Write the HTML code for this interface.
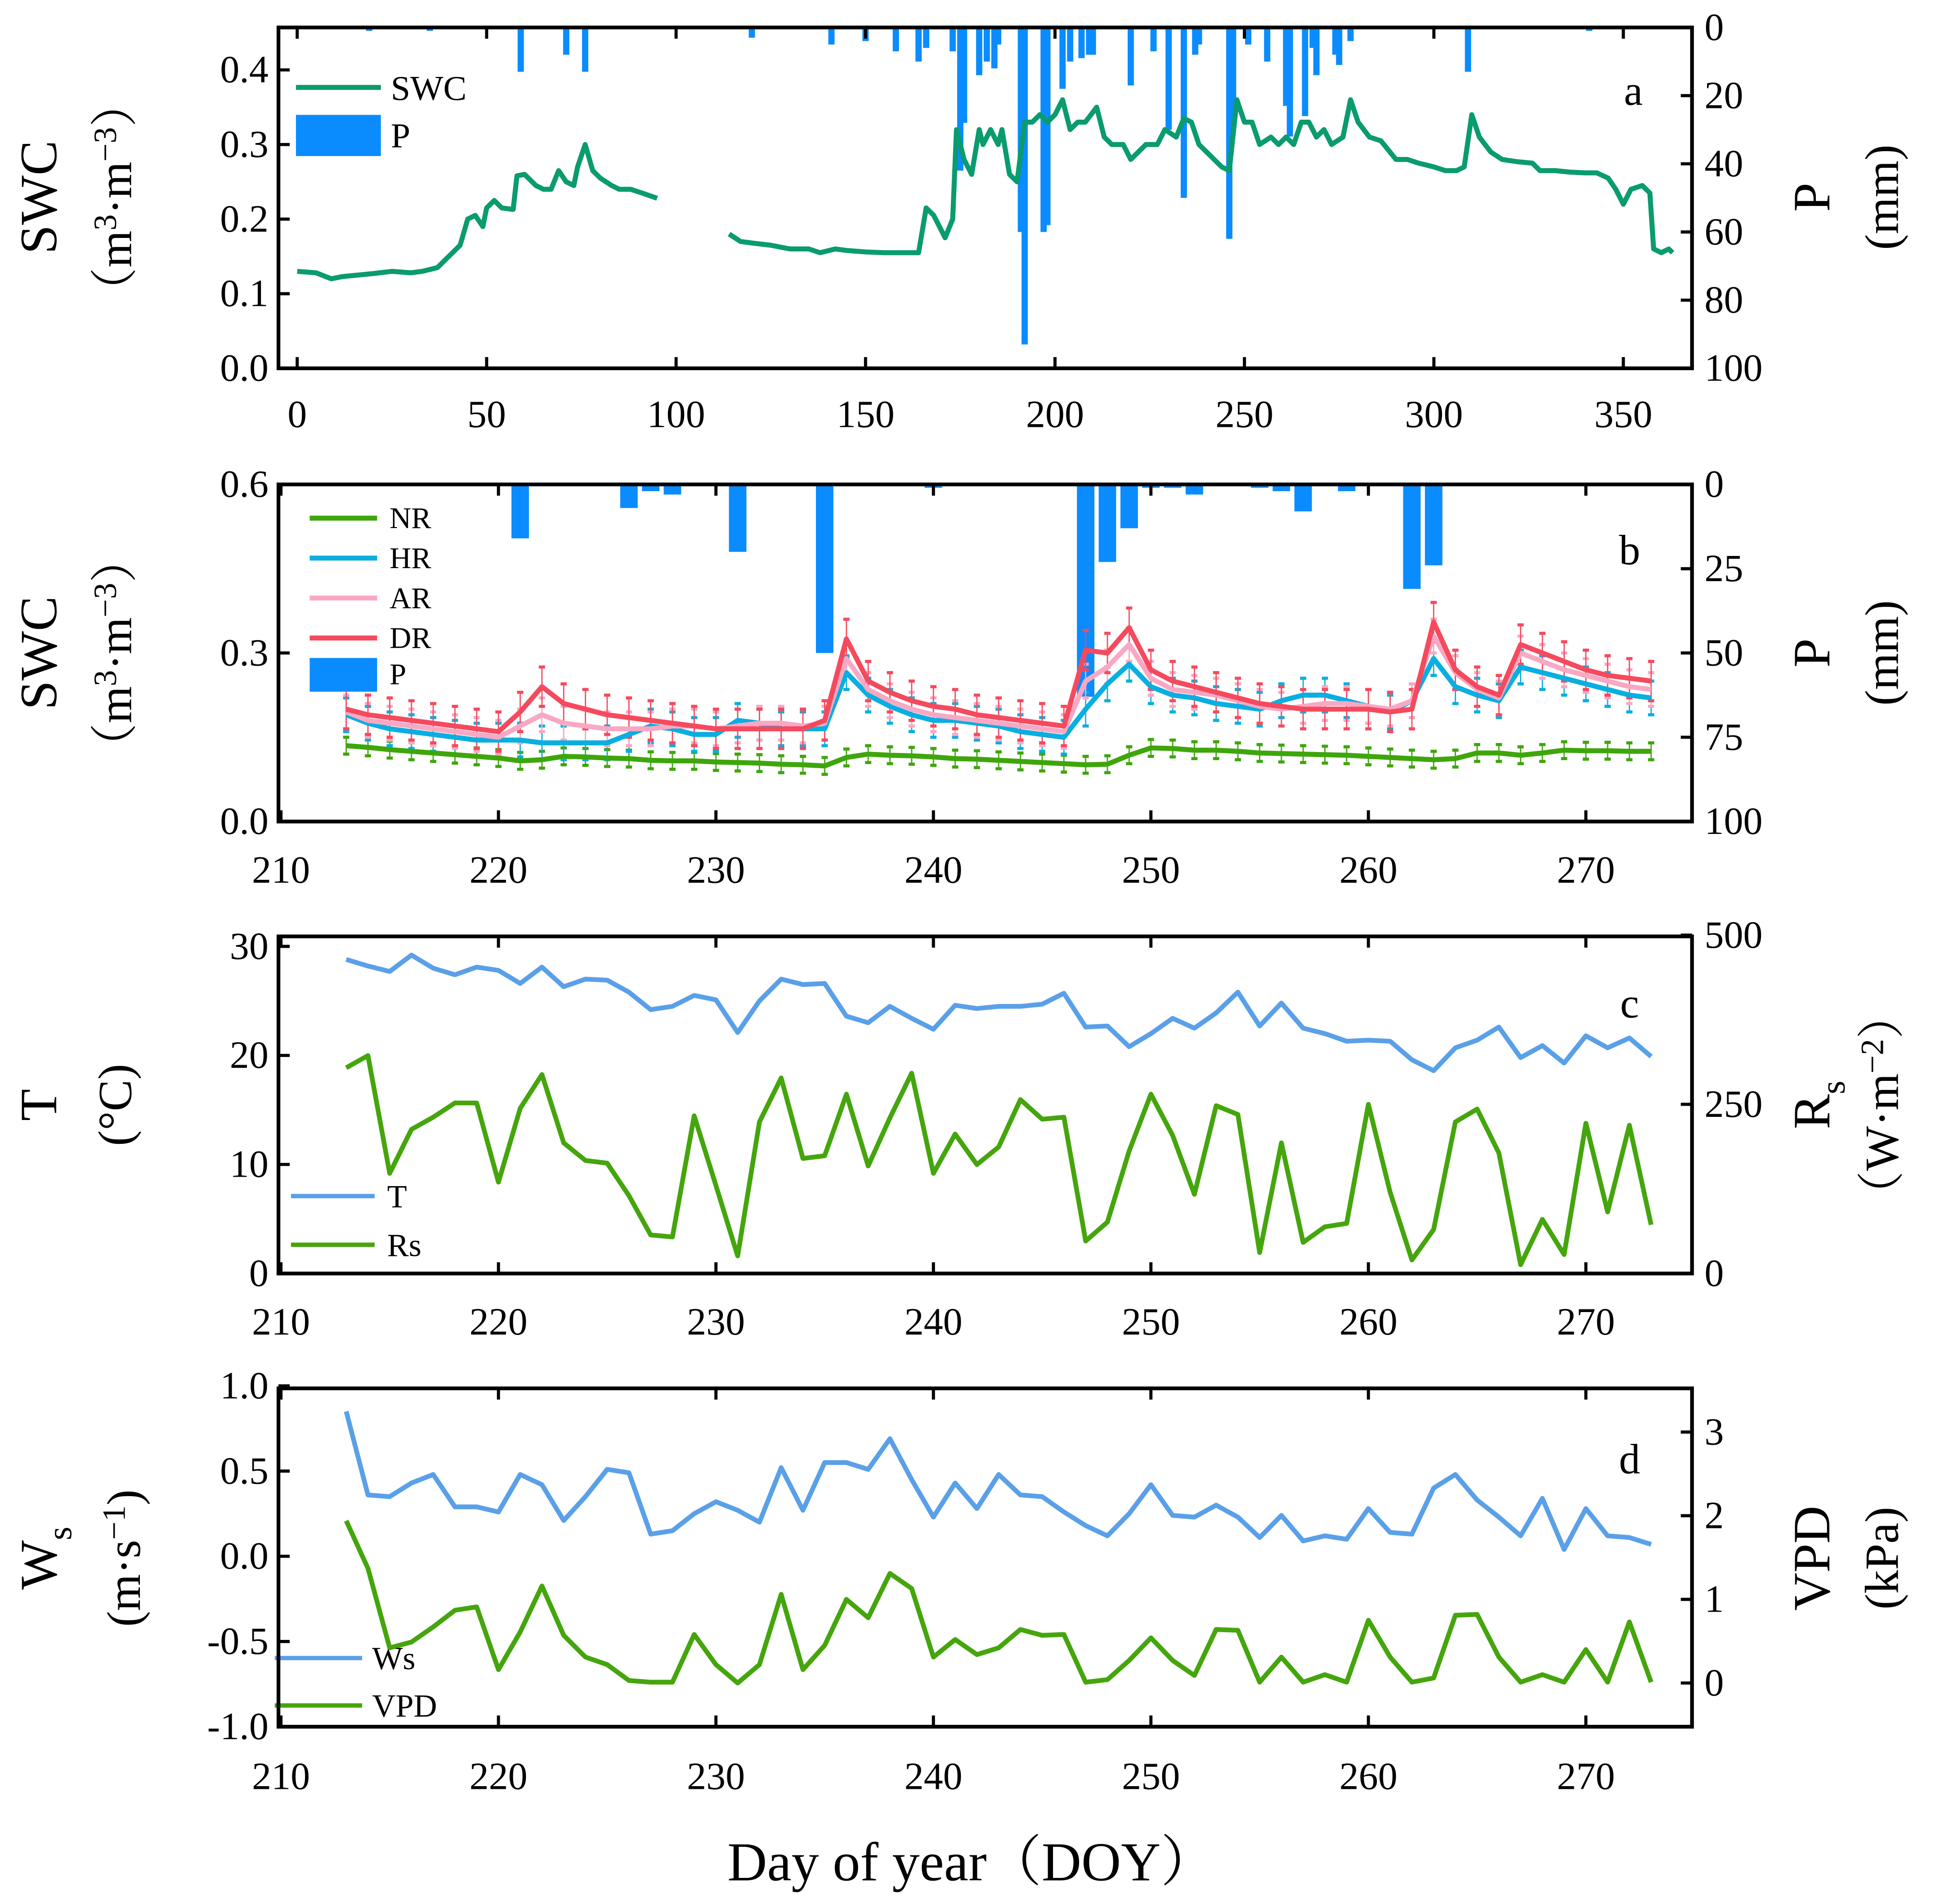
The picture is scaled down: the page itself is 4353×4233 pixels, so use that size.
<!DOCTYPE html>
<html><head><meta charset="utf-8">
<style>
html,body{margin:0;padding:0;background:#fff;}
svg{display:block;}
text{font-family:"Liberation Serif","Noto Serif CJK SC",serif;fill:#000;}
</style></head>
<body>
<svg id="chart" xmlns="http://www.w3.org/2000/svg" width="4353" height="4233" viewBox="0 0 1568 1525" preserveAspectRatio="none">
</svg>
<script>
// ---------- Panel a data ----------
const doyA = [0,5,9,12,20,25,30,33,37,40,43,45,47,49,50,52,54,57,58,60,63,65,67,69,71,73,74,76,78,80,83,85,88,91,95,null,114,117,120,125,130,135,138,142,145,150,155,160,164,166,168,171,173,174,176,178,180,181,183,185,186,188,190,192,194,196,198,200,202,204,206,208,211,213,215,218,220,222,224,227,229,232,234,236,238,240,242,244,246,248,250,252,254,257,259,261,263,265,267,269,271,273,276,278,280,283,286,290,293,296,300,303,306,308,310,312,315,318,322,326,328,332,336,340,343,346,348,350,352,355,357,358,360,362,363];
const swcA = [0.13,0.128,0.12,0.123,0.127,0.13,0.128,0.13,0.135,0.15,0.165,0.2,0.205,0.19,0.215,0.225,0.215,0.213,0.258,0.26,0.245,0.24,0.24,0.265,0.25,0.245,0.27,0.30,0.265,0.255,0.245,0.24,0.24,0.235,0.228,null,0.18,0.17,0.168,0.165,0.16,0.16,0.155,0.16,0.158,0.156,0.155,0.155,0.155,0.215,0.205,0.175,0.2,0.32,0.28,0.26,0.32,0.30,0.32,0.30,0.32,0.26,0.25,0.33,0.33,0.34,0.33,0.34,0.36,0.32,0.33,0.33,0.35,0.31,0.30,0.30,0.28,0.29,0.30,0.30,0.32,0.31,0.335,0.33,0.30,0.29,0.28,0.27,0.265,0.36,0.33,0.33,0.30,0.31,0.30,0.31,0.30,0.33,0.33,0.31,0.32,0.30,0.31,0.36,0.33,0.31,0.305,0.28,0.28,0.275,0.27,0.265,0.265,0.27,0.34,0.31,0.29,0.28,0.277,0.275,0.265,0.265,0.263,0.262,0.262,0.255,0.24,0.22,0.24,0.245,0.235,0.16,0.155,0.16,0.155];
const pDaysA = [19,35,59,71,76,120,141,150,158,164,166,173,175,176,180,182,184,185,191,192,197,198,202,204,207,209,210,220,226,230,234,237,238,246,247,251,256,261,262,266,268,269,274,275,278,309,341];
const pValsA = [1,1,13,8,13,3,5,4,7,10,6,7,42,28,14,10,12,5,60,93,60,58,18,10,9,8,8,17,7,30,50,8,5,62,30,5,10,23,32,26,6,14,8,11,4,13,1];

// ---------- Panel b data ----------
const daysB = [213,214,215,216,217,218,219,220,221,222,223,224,225,226,227,228,229,230,231,232,233,234,235,236,237,238,239,240,241,242,243,244,245,246,247,248,249,250,251,252,253,254,255,256,257,258,259,260,261,262,263,264,265,266,267,268,269,270,271,272,273];
const nrB = [0.135,0.132,0.128,0.125,0.122,0.119,0.116,0.113,0.108,0.110,0.116,0.115,0.113,0.112,0.109,0.108,0.108,0.106,0.105,0.104,0.102,0.101,0.099,0.114,0.120,0.118,0.117,0.115,0.112,0.111,0.109,0.107,0.105,0.103,0.101,0.102,0.118,0.131,0.130,0.127,0.127,0.125,0.122,0.121,0.120,0.119,0.118,0.116,0.114,0.112,0.110,0.112,0.122,0.122,0.118,0.122,0.127,0.126,0.126,0.125,0.125];
const hrB = [0.19,0.175,0.165,0.16,0.155,0.15,0.145,0.145,0.145,0.14,0.14,0.14,0.14,0.155,0.17,0.165,0.155,0.155,0.18,0.175,0.165,0.165,0.165,0.265,0.225,0.205,0.19,0.18,0.18,0.175,0.17,0.16,0.155,0.15,0.20,0.245,0.28,0.24,0.225,0.22,0.21,0.205,0.20,0.215,0.225,0.225,0.215,0.205,0.195,0.215,0.29,0.24,0.225,0.215,0.275,0.265,0.255,0.245,0.235,0.225,0.22];
const arB = [0.195,0.18,0.175,0.17,0.165,0.16,0.155,0.15,0.17,0.19,0.175,0.17,0.165,0.165,0.165,0.17,0.17,0.165,0.17,0.175,0.175,0.17,0.175,0.29,0.235,0.215,0.20,0.19,0.185,0.18,0.175,0.17,0.165,0.16,0.25,0.275,0.315,0.255,0.235,0.23,0.225,0.215,0.205,0.20,0.205,0.21,0.21,0.205,0.20,0.215,0.33,0.265,0.235,0.22,0.30,0.285,0.27,0.26,0.25,0.24,0.235];
const drB = [0.20,0.19,0.185,0.18,0.175,0.17,0.165,0.16,0.195,0.24,0.21,0.20,0.19,0.185,0.18,0.175,0.17,0.165,0.165,0.165,0.165,0.165,0.18,0.325,0.25,0.23,0.215,0.205,0.20,0.19,0.185,0.18,0.175,0.17,0.305,0.30,0.345,0.27,0.25,0.24,0.23,0.22,0.21,0.205,0.20,0.20,0.20,0.20,0.195,0.20,0.355,0.27,0.24,0.225,0.315,0.30,0.285,0.27,0.26,0.255,0.25];
const errB = {nr:0.015, hr:0.03, ar:0.03, dr:0.035};
const pDaysB = [221,226,227,228,231,235,240,243,247,248,249,250,251,252,255,256,257,259,262,263];
const pValsB = [16,7,2,3,20,50,1,0.5,63,23,13,1,1,3,1,2,8,2,31,24];

// ---------- Panel c data ----------
const daysC = daysB;
const tempC = [28.8,28.2,27.7,29.2,28.0,27.4,28.1,27.8,26.6,28.1,26.3,27.0,26.9,25.8,24.2,24.5,25.5,25.1,22.1,25.0,27.0,26.5,26.6,23.6,23.0,24.5,23.4,22.4,24.6,24.3,24.5,24.5,24.7,25.7,22.6,22.7,20.8,22.0,23.4,22.5,23.9,25.8,22.7,24.8,22.5,22.0,21.3,21.4,21.3,19.6,18.6,20.7,21.4,22.6,19.8,20.9,19.3,21.8,20.7,21.6,19.9];
const rsC = [304,322,148,213,231,252,252,135,244,294,193,167,163,115,57,54,233,130,26,224,289,170,174,265,159,230,296,148,206,161,187,257,228,231,48,76,181,265,204,117,248,235,31,193,46,69,74,250,120,20,65,224,243,178,13,80,28,222,91,219,72];

// ---------- Panel d data ----------
const wsD = [0.85,0.36,0.35,0.43,0.48,0.29,0.29,0.26,0.48,0.42,0.21,0.35,0.51,0.49,0.13,0.15,0.25,0.32,0.27,0.20,0.52,0.27,0.55,0.55,0.51,0.69,0.45,0.23,0.43,0.28,0.48,0.36,0.35,0.26,0.18,0.12,0.25,0.42,0.24,0.23,0.30,0.23,0.11,0.24,0.09,0.12,0.10,0.28,0.14,0.13,0.40,0.48,0.33,0.23,0.12,0.34,0.04,0.28,0.12,0.11,0.07];
const vpdD = [1.94,1.37,0.42,0.49,0.67,0.87,0.91,0.16,0.61,1.16,0.57,0.31,0.22,0.03,0.01,0.01,0.58,0.22,0.0,0.22,1.06,0.16,0.45,1.0,0.78,1.31,1.13,0.31,0.52,0.34,0.42,0.64,0.57,0.58,0.01,0.04,0.27,0.54,0.27,0.09,0.64,0.63,0.01,0.31,0.01,0.1,0.01,0.75,0.31,0.01,0.06,0.81,0.82,0.31,0.01,0.1,0.01,0.40,0.01,0.73,0.01];

const ticksAx = [0,50,100,150,200,250,300,350];
const ticksBx = [210,220,230,240,250,260,270];

const svg = document.getElementById('chart');
const NS = 'http://www.w3.org/2000/svg';
function mk(tag, attrs, parent){
  const e = document.createElementNS(NS, tag);
  for (const k in attrs) e.setAttribute(k, attrs[k]);
  (parent||svg).appendChild(e);
  return e;
}
function txt(x,y,s,size,anchor,parent,name){
  const t = mk('text',{x:x,y:y,'font-size':size,'text-anchor':anchor||'middle'},parent);
  t.textContent = s;
  
  
  return t;
}
function lin(d0,d1,r0,r1){ return v => r0 + (v-d0)*(r1-r0)/(d1-d0); }

const X0 = 223, X1 = 1355;
function frame(y0,y1,name){
  const r = mk('rect',{x:X0,y:y0,width:X1-X0,height:y1-y0,fill:'none',stroke:'#000','stroke-width':3});
  
  
}
function xTicks(xs, ticks, y0, y1, labY, g){
  ticks.forEach(t=>{
    const x = xs(t);
    mk('line',{x1:x,x2:x,y1:y1,y2:y1-9,stroke:'#000','stroke-width':2.5},g);
    mk('line',{x1:x,x2:x,y1:y0,y2:y0+9,stroke:'#000','stroke-width':2.5},g);
    txt(x,labY,String(t),31,'middle',g,'x-tick-label');
  });
}
function yTicksL(ys, ticks, fmt, g){
  ticks.forEach(t=>{
    const y = ys(t);
    mk('line',{x1:X0,x2:X0+9,y1:y,y2:y,stroke:'#000','stroke-width':2.5},g);
    txt(X0-8,y+10,fmt(t),31,'end',g,'y-tick-label');
  });
}
function yTicksR(ys, ticks, fmt, g){
  ticks.forEach(t=>{
    const y = ys(t);
    mk('line',{x1:X1,x2:X1-9,y1:y,y2:y,stroke:'#000','stroke-width':2.5},g);
    txt(X1+10,y+10,fmt(t),31,'start',g,'y2-tick-label');
  });
}
function pathFrom(xsArr, ysArr, xs, ys){
  let d = '', pen = false;
  for (let i=0;i<xsArr.length;i++){
    if (xsArr[i]===null || ysArr[i]===null){ pen=false; continue; }
    d += (pen?'L':'M') + xs(xsArr[i]).toFixed(2) + ' ' + ys(ysArr[i]).toFixed(2);
    pen = true;
  }
  return d;
}
function rotText(x,y,s,size,g,name){
  const t = mk('text',{x:0,y:0,'font-size':size,'text-anchor':'middle',transform:`translate(${x},${y}) rotate(-90)`},g);
  t.innerHTML = s;
  
  
  return t;
}
const f1 = v=>v.toFixed(1), f0 = v=>String(v);

// ================= Panel a =================
(function(){
  const g = mk('g',{});
  
  
  const y0=22, y1=295;
  const xs = lin(0,350,238,1300);
  const ys = lin(0,0.4,y1,56);
  const yp = lin(0,100,y0,y1);
  pDaysA.forEach((d,i)=>{
    const r = mk('rect',{x:xs(d)-2.5,y:y0,width:5,height:yp(pValsA[i])-y0,fill:'#0a8cff'},g);
    
    
  });
  const p = mk('path',{d:pathFrom(doyA,swcA,xs,ys),fill:'none',stroke:'#0a9b6e','stroke-width':4,'stroke-linejoin':'round'},g);
  
  
  frame(y0,y1,'panel-a-frame');
  xTicks(xs,ticksAx,y0,y1,342,g);
  yTicksL(ys,[0,0.1,0.2,0.3,0.4],f1,g);
  yTicksR(yp,[0,20,40,60,80,100],f0,g);
  rotText(45,158,'SWC',42,g,'y-axis-title-a');
  rotText(105,158,'（m<tspan dy="-12" font-size="26">3</tspan><tspan dy="12">·m</tspan><tspan dy="-12" font-size="26">−3</tspan><tspan dy="12">）</tspan>',38,g,'y-axis-unit-a');
  rotText(1465,158,'P',42,g,'y2-axis-title-a');
  rotText(1520,158,'(mm)',38,g,'y2-axis-unit-a');
  txt(1308,84,'a',34,'middle',g,'panel-letter-a');
  const l1 = mk('line',{x1:237,x2:305,y1:70,y2:70,stroke:'#0a9b6e','stroke-width':4},g);
   
  txt(313,80,'SWC',28,'start',g,'legend-swc');
  const r1 = mk('rect',{x:237,y:92,width:68,height:33,fill:'#0a8cff'},g);
   
  txt(313,118,'P',28,'start',g,'legend-p');
})();

// ================= Panel b =================
(function(){
  const g = mk('g',{});
  
  
  const y0=388, y1=658;
  const xs = lin(210,270,225,1270);
  const ys = lin(0,0.6,y1,y0);
  const yp = lin(0,100,y0,y1);
  pDaysB.forEach((d,i)=>{
    const r = mk('rect',{x:xs(d)-7,y:y0,width:14,height:yp(pValsB[i])-y0,fill:'#0a8cff'},g);
    
    
  });
  const series = [['nr',nrB,'#3ea60b',4],['hr',hrB,'#0aaee0',4],['ar',arB,'#f9a8c4',4],['dr',drB,'#f54a5e',4]];
  series.forEach(([k,vals,col,w])=>{
    vals.forEach((v,i)=>{
      const x = xs(daysB[i]);
      const e = errB[k];
      mk('line',{x1:x,x2:x,y1:ys(v-e),y2:ys(v+e),stroke:col,'stroke-width':1},g);
      mk('line',{x1:x-2.5,x2:x+2.5,y1:ys(v-e),y2:ys(v-e),stroke:col,'stroke-width':2.5},g);
      mk('line',{x1:x-2.5,x2:x+2.5,y1:ys(v+e),y2:ys(v+e),stroke:col,'stroke-width':2.5},g);
    });
  });
  series.forEach(([k,vals,col,w])=>{
    const p = mk('path',{d:pathFrom(daysB,vals,xs,ys),fill:'none',stroke:col,'stroke-width':w,'stroke-linejoin':'round'},g);
    
    
  });
  frame(y0,y1,'panel-b-frame');
  xTicks(xs,ticksBx,y0,y1,707,g);
  yTicksL(ys,[0,0.3,0.6],f1,g);
  yTicksR(yp,[0,25,50,75,100],f0,g);
  rotText(45,523,'SWC',42,g,'y-axis-title-b');
  rotText(105,523,'（m<tspan dy="-12" font-size="26">3</tspan><tspan dy="12">·m</tspan><tspan dy="-12" font-size="26">−3</tspan><tspan dy="12">）</tspan>',38,g,'y-axis-unit-b');
  rotText(1465,523,'P',42,g,'y2-axis-title-b');
  rotText(1520,523,'(mm)',38,g,'y2-axis-unit-b');
  txt(1305,452,'b',34,'middle',g,'panel-letter-b');
  const leg = [['NR','#3ea60b',415],['HR','#0aaee0',447],['AR','#f9a8c4',479],['DR','#f54a5e',511]];
  leg.forEach(([n,c,y])=>{
    const l = mk('line',{x1:248,x2:302,y1:y,y2:y,stroke:c,'stroke-width':4},g);
     
    txt(312,y+8,n,24,'start',g,'legend-'+n.toLowerCase());
  });
  const r1 = mk('rect',{x:248,y:527,width:54,height:27,fill:'#0a8cff'},g);
   
  txt(312,548,'P',24,'start',g,'legend-p');
})();

// ================= Panel c =================
(function(){
  const g = mk('g',{});
  
  
  const y0=750, y1=1020;
  const xs = lin(210,270,225,1270);
  const yt = lin(0,30,y1,758);
  const yr = lin(0,500,y1,749);
  const p1 = mk('path',{d:pathFrom(daysC,tempC,xs,yt),fill:'none',stroke:'#5aa0e8','stroke-width':3.8,'stroke-linejoin':'round'},g);
   
  const p2 = mk('path',{d:pathFrom(daysC,rsC,xs,yr),fill:'none',stroke:'#45a50d','stroke-width':3.8,'stroke-linejoin':'round'},g);
   
  frame(y0,y1,'panel-c-frame');
  xTicks(xs,ticksBx,y0,y1,1069,g);
  yTicksL(yt,[0,10,20,30],f0,g);
  yTicksR(yr,[0,250,500],f0,g);
  rotText(45,885,'T',42,g,'y-axis-title-c');
  rotText(105,885,'(°C)',38,g,'y-axis-unit-c');
  rotText(1465,885,'R<tspan font-size="28" dy="12">s</tspan>',42,g,'y2-axis-title-c');
  rotText(1520,885,'（W·m<tspan dy="-12" font-size="26">−2</tspan><tspan dy="12">）</tspan>',38,g,'y2-axis-unit-c');
  txt(1305,815,'c',34,'middle',g,'panel-letter-c');
  const l1 = mk('line',{x1:233,x2:300,y1:958,y2:958,stroke:'#5aa0e8','stroke-width':3.5},g);
   
  txt(310,967,'T',26,'start',g,'legend-t');
  const l2 = mk('line',{x1:233,x2:300,y1:997,y2:997,stroke:'#45a50d','stroke-width':3.5},g);
   
  txt(310,1006,'Rs',26,'start',g,'legend-rs');
})();

// ================= Panel d =================
(function(){
  const g = mk('g',{});
  
  
  const y0=1112, y1=1383;
  const xs = lin(210,270,225,1270);
  const yw = lin(-1,1,y1,1110);
  const yv = lin(0,3,1348,1147);
  const p1 = mk('path',{d:pathFrom(daysB,wsD,xs,yw),fill:'none',stroke:'#5aa0e8','stroke-width':3.8,'stroke-linejoin':'round'},g);
   
  const p2 = mk('path',{d:pathFrom(daysB,vpdD,xs,yv),fill:'none',stroke:'#45a50d','stroke-width':3.8,'stroke-linejoin':'round'},g);
   
  frame(y0,y1,'panel-d-frame');
  xTicks(xs,ticksBx,y0,y1,1433,g);
  yTicksL(yw,[-1,-0.5,0,0.5,1],f1,g);
  yTicksR(yv,[0,1,2,3],f0,g);
  rotText(45,1248,'W<tspan font-size="28" dy="12">s</tspan>',42,g,'y-axis-title-d');
  rotText(112,1248,'(m·s<tspan dy="-12" font-size="26">−1</tspan><tspan dy="12">)</tspan>',38,g,'y-axis-unit-d');
  rotText(1465,1248,'VPD',42,g,'y2-axis-title-d');
  rotText(1520,1248,'(kPa)',38,g,'y2-axis-unit-d');
  txt(1305,1180,'d',34,'middle',g,'panel-letter-d');
  const l1 = mk('line',{x1:220,x2:290,y1:1328,y2:1328,stroke:'#5aa0e8','stroke-width':3.5},g);
   
  txt(298,1337,'Ws',26,'start',g,'legend-ws');
  const l2 = mk('line',{x1:220,x2:290,y1:1366,y2:1366,stroke:'#45a50d','stroke-width':3.5},g);
   
  txt(298,1375,'VPD',26,'start',g,'legend-vpd');
})();

txt(778,1506,'Day of year（DOY）',44,'middle',svg,'x-axis-title');
</script>
</body></html>
